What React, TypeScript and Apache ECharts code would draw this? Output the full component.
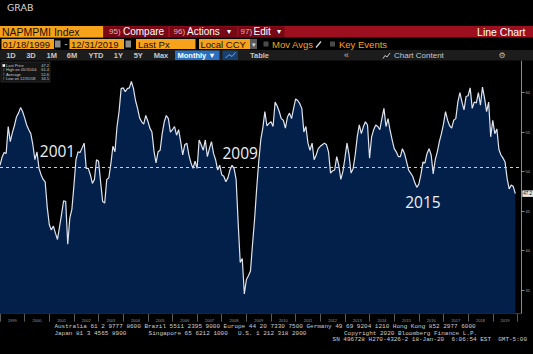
import React, { useEffect, useRef } from 'react';
import * as echarts from 'echarts';

// ---------- data ----------
const years = [
  '1999', '2000', '2001', '2002', '2003', '2004', '2005', '2006', '2007', '2008', '2009',
  '2010', '2011', '2012', '2013', '2014', '2015', '2016', '2017', '2018', '2019',
];
const monthCodes = ['01', '02', '03', '04', '05', '06', '07', '08', '09', '10', '11', '12'];
const padMonths = ['2020-01', '2020-02', '2020-03'];

// ISM Manufacturing PMI (NAPMPMI Index), monthly, Jan 1999 - Dec 2019
const pmi = [
  50.8, 51.8, 52.4, 52.3, 55.7, 53.8, 54.9, 55.8, 56.9, 57.4, 58.1, 57.6, // 1999
  56.8, 55.9, 55.3, 54.8, 53.4, 51.5, 52.5, 50.4, 49.6, 49.0, 48.7, 45.5, // 2000
  43.3, 42.6, 43.1, 42.2, 41.4, 43.0, 44.6, 46.3, 46.2, 40.8, 44.1, 45.2, // 2001
  48.2, 51.5, 52.5, 52.4, 53.0, 53.6, 50.4, 50.4, 49.6, 48.5, 49.0, 51.5, // 2002
  51.3, 48.7, 46.2, 46.0, 49.0, 49.2, 51.0, 53.2, 52.5, 55.7, 57.6, 60.5, // 2003
  60.6, 60.1, 60.5, 60.6, 61.4, 60.5, 59.0, 58.0, 56.8, 56.3, 56.0, 57.1, // 2004
  56.4, 55.5, 55.0, 52.6, 51.1, 52.5, 52.7, 54.8, 56.3, 57.1, 56.7, 55.0, // 2005
  55.3, 55.7, 54.6, 55.3, 53.8, 52.1, 53.4, 53.6, 52.1, 51.1, 50.4, 51.3, // 2006
  50.4, 54.0, 53.4, 52.7, 54.0, 51.9, 52.9, 53.8, 52.3, 51.5, 50.2, 50.8, // 2007
  49.6, 49.4, 48.7, 49.2, 50.2, 50.8, 50.4, 49.0, 43.5, 38.5, 39.0, 34.5, // 2008
  36.3, 36.8, 37.4, 40.8, 44.0, 47.8, 51.2, 54.0, 55.5, 57.6, 55.8, 56.1, // 2009
  56.3, 55.7, 58.8, 58.3, 57.6, 56.7, 56.5, 55.5, 56.9, 57.4, 56.7, 58.0, // 2010
  59.2, 59.0, 58.6, 58.0, 55.0, 55.7, 53.6, 52.7, 53.6, 51.5, 52.1, 52.9, // 2011
  53.2, 53.4, 53.6, 53.4, 52.5, 49.8, 50.1, 50.2, 51.9, 50.8, 49.0, 50.0, // 2012
  51.7, 53.6, 52.1, 49.8, 50.4, 52.1, 54.4, 55.9, 54.8, 55.7, 56.3, 55.9, // 2013
  51.7, 54.4, 55.3, 55.9, 55.7, 55.3, 56.7, 58.0, 55.7, 56.7, 55.2, 54.0, // 2014
  52.9, 52.5, 51.9, 51.9, 52.9, 52.3, 51.3, 50.2, 49.8, 49.4, 48.6, 48.0, // 2015
  48.4, 49.6, 51.2, 51.1, 52.3, 52.9, 52.1, 49.7, 51.5, 52.5, 53.8, 54.8, // 2016
  56.0, 57.6, 56.5, 55.8, 55.5, 56.5, 56.7, 58.8, 60.0, 58.8, 57.8, 59.5, // 2017
  59.6, 60.6, 58.0, 58.8, 58.7, 60.0, 58.4, 60.7, 59.3, 57.6, 58.8, 54.4, // 2018
  56.5, 54.8, 55.4, 52.8, 52.1, 51.7, 51.2, 49.1, 47.8, 48.3, 48.1, 47.2, // 2019
];

const dashedLevel = 50.6;
const yTickValues = [35, 40, 45, 50, 55, 60];
const annotationLabels = ['2001', '2009', '2015'];
const annotationMonths = ['2001-05', '2008-10', '2016-03'];
const annotationValues = [52.6, 52.4, 46.1];
const legendLabels = ['Last Price', 'High on 05/31/04', 'Average', 'Low on 12/31/08'];
const legendValues = ['47.2', '61.4', '52.6', '34.5'];
const lastPriceLabel = '47.2';

const periodButtons = ['1D', '3D', '1M', '6M', 'YTD', '1Y', '5Y', 'Max'];
const footerLine1 = 'Australia 61 2 9777 8600 Brazil 5511 2395 9000 Europe 44 20 7330 7500 Germany 49 69 9204 1210 Hong Kong 852 2977 6000';
const footerLine2 = ['Japan 81 3 4565 8900', 'Singapore 65 6212 1000', 'U.S. 1 212 318 2000', 'Copyright 2020 Bloomberg Finance L.P.'];
const footerLine3 = 'SN 496728 H270-4326-2 18-Jan-20  6:06:54 EST  GMT-5:00';

const categories = years.flatMap((y) => monthCodes.map((m) => `${y}-${m}`)).concat(padMonths);

// ---------- helpers for the Bloomberg frame ----------
const ORANGE = '#f7a21b';
const UI_FONT = 'Liberation Sans';

type TxtOpts = { family?: string; weight?: string; align?: string };
const txt = (text: string, x: number, y: number, size: number, color: string, o: TxtOpts = {}) => ({
  type: 'text',
  z: 100,
  silent: true,
  style: {
    text,
    x,
    y,
    fill: color,
    fontSize: size,
    fontFamily: o.family || UI_FONT,
    fontWeight: o.weight || 'normal',
    textAlign: o.align || 'left',
    align: o.align || 'left',
    textVerticalAlign: 'middle',
    verticalAlign: 'middle',
  },
});
const box = (x: number, y: number, w: number, h: number, fill: string, stroke?: string) => ({
  type: 'rect',
  z: 99,
  silent: true,
  shape: { x, y, width: w, height: h },
  style: { fill, stroke: stroke || 'none', lineWidth: stroke ? 0.8 : 0 },
});
const seg = (pts: number[][], color: string, w = 1) => ({
  type: 'polyline',
  z: 101,
  silent: true,
  shape: { points: pts },
  style: { stroke: color, lineWidth: w, fill: 'none' },
});

function buildGraphics() {
  const g: any[] = [];
  // title
  g.push(txt('GRAB', 7, 7.5, 9.5, '#d8d8d8', { family: 'DejaVu Sans' }));

  // row 1: security + action bar
  const r1 = 31.8;
  g.push(box(0, 26, 533, 11.5, '#9b0f1f'));
  g.push(box(0, 26, 103, 11.5, ORANGE));
  g.push(txt('NAPMPMI Index', 2, r1, 10.5, '#1a1000'));
  g.push(box(104, 26.5, 64, 10.5, '#760915'));
  g.push(txt('95)', 109, r1, 8, '#e6b5b5'));
  g.push(txt('Compare', 123, r1, 10, '#ffffff'));
  g.push(box(170, 26.5, 67, 10.5, '#760915'));
  g.push(txt('96)', 173.5, r1, 8, '#e6b5b5'));
  g.push(txt('Actions', 187, r1, 10, '#ffffff'));
  g.push(txt('▾', 227, r1, 8, '#ffffff'));
  g.push(box(238.5, 26.5, 46, 10.5, '#760915'));
  g.push(txt('97)', 240.5, r1, 8, '#e6b5b5'));
  g.push(txt('Edit', 253.5, r1, 10, '#ffffff'));
  g.push(txt('▾', 277, r1, 8, '#ffffff'));
  g.push(txt('Line Chart', 525.5, r1, 10.5, '#ffffff', { align: 'right' }));

  // row 2: dates / price type
  const r2 = 44;
  g.push(box(1.5, 39, 52.5, 10, ORANGE));
  g.push(txt('01/18/1999', 2.5, r2, 9.5, '#1a1000'));
  g.push(box(55, 40.5, 5.5, 7, '#8a8a8a'));
  g.push(txt('-', 64.5, r2, 9, '#dddddd'));
  g.push(box(69.5, 39, 54.5, 10, ORANGE));
  g.push(txt('12/31/2019', 71, r2, 9.5, '#1a1000'));
  g.push(box(125.5, 40.5, 5.5, 7, '#8a8a8a'));
  g.push(box(136, 39, 59.5, 10, ORANGE));
  g.push(txt('Last Px', 138, r2, 9.5, '#1a1000'));
  g.push(box(199, 39, 51, 10, ORANGE));
  g.push(txt('Local CCY', 200.5, r2, 9.5, '#1a1000'));
  g.push(box(250, 39, 7, 10, '#5a5a5a'));
  g.push(txt('▾', 253.5, r2, 7, '#dddddd', { align: 'center' }));
  g.push(box(263.5, 41.5, 5, 5, '#4a4a4a'));
  g.push(txt('Mov Avgs', 272, r2, 9.5, ORANGE));
  g.push(seg([[316, 47.5], [321, 41.5]], '#dddddd', 1.2));
  g.push(box(330, 41.5, 5, 5, '#4a4a4a'));
  g.push(txt('Key Events', 339, r2, 9.5, ORANGE));

  // row 3: period buttons
  const r3 = 55.3;
  g.push(box(0, 50, 533, 10.5, '#1c1c1c'));
  const centers = [11, 31, 51.8, 72, 96, 118.4, 138.3, 161];
  periodButtons.forEach((b, i) => g.push(txt(b, centers[i], r3, 7.5, '#c8c8c8', { weight: 'bold', align: 'center' })));
  g.push(box(175, 50.5, 44.5, 9.5, '#2a6fc0'));
  g.push(txt('Monthly ▼', 177.5, r3, 7.5, '#ffffff', { weight: 'bold' }));
  g.push(box(222.5, 50.5, 15.5, 9.5, '#17406e'));
  g.push(seg([[225.5, 58], [229, 54.5], [232, 56.5], [235.5, 52.5]], '#6aaaf0', 1));
  g.push(txt('Table', 250, r3, 7.5, '#c8c8c8', { weight: 'bold' }));
  g.push(txt('«', 344, r3, 9, '#bbbbbb'));
  g.push(seg([[383, 58.5], [385, 55.5], [387, 57], [390, 53]], '#c8c8c8', 1));
  g.push(txt('Chart Content', 394, r3, 8, '#c8c8c8'));
  g.push(txt('⚙', 502, r3, 8, '#bbbbbb', { family: 'DejaVu Sans', align: 'center' }));

  // legend box
  g.push(box(1, 62, 49, 20, '#141414', '#2e2e2e'));
  const ly = [65.5, 69.8, 74, 78.2];
  legendLabels.forEach((l, i) => {
    if (i === 0) g.push(box(2.5, 64.2, 2.6, 2.6, '#ffffff'));
    else g.push(seg([[3.8, ly[i] - 1.5], [3.8, ly[i] + 1.5]], '#888888', 0.6));
    g.push(txt(l, 6, ly[i], 4, '#c8c8c8'));
    g.push(txt(legendValues[i], 49, ly[i], 4, '#c8c8c8', { align: 'right' }));
  });

  // footer
  const mono = { family: 'Liberation Mono' };
  g.push(txt(footerLine1, 54.4, 326.7, 6, '#cfcfcf', mono));
  const f2x = [54.4, 148.6, 238, 344];
  footerLine2.forEach((t, i) => g.push(txt(t, f2x[i], 333.6, 6, '#cfcfcf', mono)));
  g.push(txt(footerLine3, 527, 339.8, 6, '#cfcfcf', { ...mono, align: 'right' }));
  return g;
}

export default function App() {
  const ref = useRef<HTMLDivElement>(null);
  useEffect(() => {
    if (!ref.current) return;
    const chart = echarts.init(ref.current, null, { renderer: 'svg' });
    const option: any = {
      animation: false,
      backgroundColor: '#000000',
      grid: { left: 0, right: 11.5, top: 61, bottom: 40.3, containLabel: false },
      xAxis: {
        type: 'category',
        data: categories,
        boundaryGap: false,
        axisLine: { show: true, lineStyle: { color: '#3a3a3a', width: 1 } },
        axisTick: {
          show: true,
          interval: (i: number) => i % 12 === 0,
          length: 8,
          lineStyle: { color: '#5a5a5a', width: 1 },
        },
        axisLabel: {
          show: true,
          interval: (i: number) => i % 12 === 6 && i < years.length * 12,
          formatter: (v: string) => v.slice(0, 4),
          color: '#9a9a9a',
          fontSize: 4,
          margin: 5,
          fontFamily: UI_FONT,
        },
        splitLine: { show: false },
      },
      yAxis: {
        type: 'value',
        position: 'right',
        min: 32,
        max: 64,
        axisLine: { show: true, lineStyle: { color: '#8a8a8a', width: 1 } },
        axisTick: { show: true, customValues: yTickValues, length: 3, lineStyle: { color: '#8a8a8a' } },
        axisLabel: { show: true, customValues: yTickValues, color: '#a8a8a8', fontSize: 4, margin: 4, fontFamily: UI_FONT },
        splitLine: { show: false },
      },
      graphic: buildGraphics(),
      series: [
        {
          type: 'line',
          data: pmi,
          symbol: 'none',
          showSymbol: false,
          z: 2,
          lineStyle: { color: '#dfe4ee', width: 1.2 },
          areaStyle: { color: '#03204a', opacity: 1, origin: 'start' },
          endLabel: {
            show: true,
            formatter: () => lastPriceLabel,
            distance: 7,
            fontSize: 4.5,
            color: '#000000',
            backgroundColor: '#e6e6e6',
            padding: [1, 1, 0.5, 1],
            fontFamily: UI_FONT,
          },
          markLine: {
            silent: true,
            symbol: ['none', 'none'],
            label: { show: false },
            lineStyle: { color: '#c9ced8', type: [3, 3], width: 1 },
            data: [{ yAxis: dashedLevel }],
          },
          markPoint: {
            silent: true,
            symbol: 'circle',
            symbolSize: 1,
            itemStyle: { color: 'rgba(0,0,0,0)' },
            label: {
              show: true,
              position: 'inside',
              color: '#eef0f4',
              fontSize: 15.5,
              fontFamily: 'Open Sans',
            },
            data: annotationLabels.map((t, i) => ({
              coord: [annotationMonths[i], annotationValues[i]],
              value: t,
              label: { formatter: t },
            })),
          },
        },
      ],
    };
    chart.setOption(option);
    return () => chart.dispose();
  }, []);
  return (
    <div
      ref={ref}
      style={{ position: 'fixed', left: 0, top: 0, width: 533, height: 354, background: '#000' }}
    />
  );
}
